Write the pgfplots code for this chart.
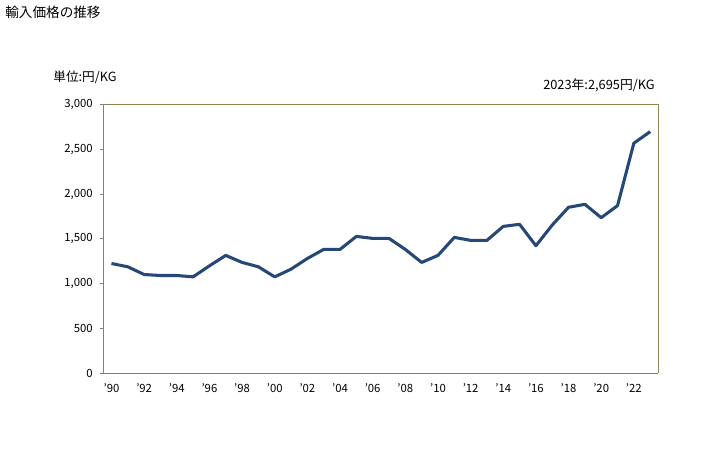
\documentclass[border=0pt]{standalone}
\usepackage{fontspec}
\setmainfont{Noto Sans CJK JP}
\usepackage{pgfplots}
\pgfplotsset{compat=1.18}
\definecolor{linec}{RGB}{38,72,118}
\definecolor{framec}{RGB}{140,134,82}
\definecolor{axgray}{RGB}{128,128,128}

\begin{document}
\begin{tikzpicture}
\useasboundingbox (0,0) rectangle (546pt,337.5pt);
\node[anchor=west, font=\fontsize{10.2}{12}\selectfont] at (0.5pt,328pt) {輸入価格の推移};
\node[anchor=west, font=\fontsize{9.5}{11}\selectfont] at (36.5pt,279.5pt) {単位:円/KG};
\node[anchor=east, font=\fontsize{9.6}{11}\selectfont] at (494.5pt,273.5pt) {2023年:2,695円/KG};
\begin{axis}[
    at={(77.5pt,57.5pt)}, anchor=south west,
    width=416.25pt, height=201.75pt, scale only axis,
    xmin=1989.5, xmax=2023.5,
    ymin=0, ymax=3000,
    axis line style={draw=none},
    xtick={1990,1992,...,2022},
    xticklabels={’90,’92,’94,’96,’98,’00,’02,’04,’06,’08,’10,’12,’14,’16,’18,’20,’22},
    xtick style={draw=none},
    ytick={0,500,...,3000},
    ytick pos=left,
    ytick style={axgray, line width=0.75pt},
    tick align=outside,
    major tick length=2.5pt,
    /pgf/number format/1000 sep={,},
    /pgf/number format/assume math mode=true,
    ticklabel style={font=\fontsize{8.5}{10}\selectfont},
    xticklabel style={yshift=-2pt},
    yticklabel style={xshift=-2pt},
    scaled y ticks=false,
    clip=false,
]
\addplot[linec, line width=2.3pt, line join=round] coordinates {
(1990,1225) (1991,1188) (1992,1102) (1993,1091) (1994,1091) (1995,1076)
(1996,1199) (1997,1315) (1998,1237) (1999,1188) (2000,1076) (2001,1162)
(2002,1281) (2003,1382) (2004,1382) (2005,1527) (2006,1505) (2007,1505)
(2008,1382) (2009,1237) (2010,1315) (2011,1516) (2012,1483) (2013,1483)
(2014,1639) (2015,1662) (2016,1423) (2017,1654) (2018,1852) (2019,1885)
(2020,1736) (2021,1870) (2022,2567) (2023,2695)
};
\draw[framec, line width=0.75pt] (rel axis cs:0,1) -- (rel axis cs:1,1) -- (rel axis cs:1,0);
\draw[axgray, line width=0.75pt] (rel axis cs:0,1) -- (rel axis cs:0,0) -- (rel axis cs:1,0);
\end{axis}
\end{tikzpicture}
\end{document}
